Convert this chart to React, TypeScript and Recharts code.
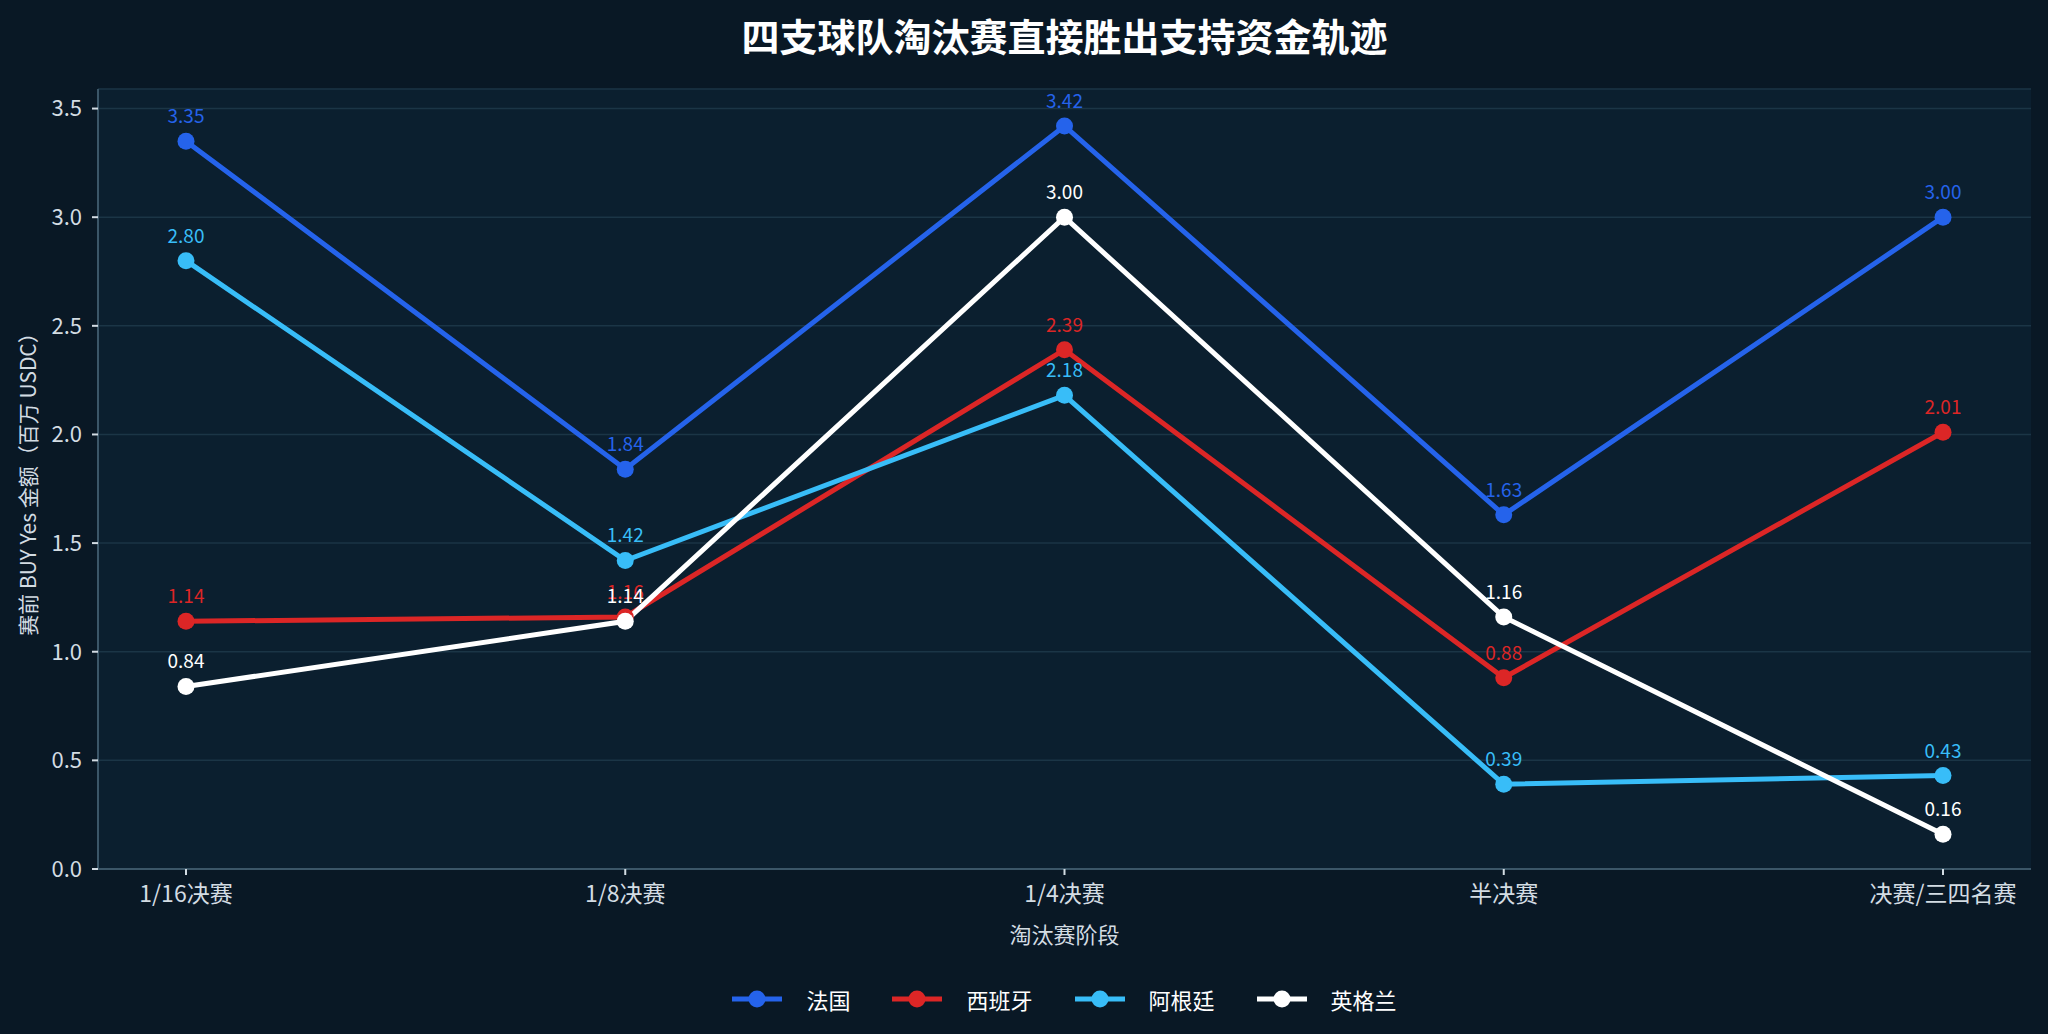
import React from "react"
import { LineChart, Line, XAxis, YAxis, CartesianGrid, Legend, LabelList } from "recharts"

const stages = ["1/16决赛", "1/8决赛", "1/4决赛", "半决赛", "决赛/三四名赛"]
const france = [3.35, 1.84, 3.42, 1.63, 3.0]
const spain = [1.14, 1.16, 2.39, 0.88, 2.01]
const argentina = [2.8, 1.42, 2.18, 0.39, 0.43]
const england = [0.84, 1.14, 3.0, 1.16, 0.16]
const yTicks = [0, 0.5, 1, 1.5, 2, 2.5, 3, 3.5]

const SERIES = [
  { key: "france", name: "法国", color: "#2563eb", values: france },
  { key: "spain", name: "西班牙", color: "#dc2626", values: spain },
  { key: "argentina", name: "阿根廷", color: "#38bdf8", values: argentina },
  { key: "england", name: "英格兰", color: "#ffffff", values: england },
]

const data = stages.map((stage, i) => {
  const row: any = { stage }
  SERIES.forEach((s) => (row[s.key] = s.values[i]))
  return row
})

const FONT = "'Noto Sans CJK SC', 'Noto Sans', sans-serif"
const BG = "#091825"
const PLOT_BG = "#0b1f2f"
const FRAME = "#3b5668"
const TEXT = "#d3dce3"
const W = 2048
const H = 1034
const DOMAIN: [number, number] = [0, 3.59]

// y 轴标题，手动旋转居中
const YLabel = ({ viewBox }: any) => {
  const cx = viewBox.x + 27
  const cy = viewBox.y + viewBox.height / 2
  return (
    <text
      x={cx}
      y={cy}
      transform={`rotate(-90 ${cx} ${cy})`}
      textAnchor="middle"
      dominantBaseline="central"
      fill={TEXT}
      fontSize={21}
      fontFamily={FONT}
    >
      赛前 BUY Yes 金额（百万 USDC）
    </text>
  )
}

const LegendContent = () => (
  <div style={{ display: "flex", justifyContent: "center", fontFamily: FONT }}>
    {SERIES.map((s, i) => (
      <div
        key={s.key}
        style={{ display: "flex", alignItems: "center", marginRight: i < SERIES.length - 1 ? 42 : 0 }}
      >
        <svg width={50} height={20}>
          <line x1={0} y1={10} x2={50} y2={10} stroke={s.color} strokeWidth={5} />
          <circle cx={25} cy={10} r={8.5} fill={s.color} />
        </svg>
        <span style={{ color: "#ffffff", fontSize: 22, marginLeft: 24 }}>{s.name}</span>
      </div>
    ))}
  </div>
)

export default function App() {
  return (
    <div style={{ position: "absolute", left: 0, top: 0, width: W, height: H, background: BG }}>
      <div
        style={{
          position: "absolute",
          left: 98,
          width: 1933,
          top: 12,
          textAlign: "center",
          color: "#ffffff",
          fontFamily: FONT,
          fontWeight: 700,
          fontSize: 38,
          lineHeight: "46px",
        }}
      >
        四支球队淘汰赛直接胜出支持资金轨迹
      </div>
      <LineChart width={W} height={H} data={data} margin={{ top: 89, right: 17, bottom: 85, left: 0 }}>
        <CartesianGrid vertical={false} stroke="#1b3546" strokeWidth={1.5} fill={PLOT_BG} />
        <XAxis
          dataKey="stage"
          type="category"
          padding={{ left: 88, right: 88 }}
          height={80}
          stroke={FRAME}
          strokeWidth={2}
          tick={{ fill: TEXT, fontSize: 23, fontFamily: FONT }}
          tickLine={{ stroke: TEXT }}
          tickSize={6}
          tickMargin={11}
          label={{ value: "淘汰赛阶段", position: "insideBottom", offset: 6, fill: TEXT, fontSize: 22, fontFamily: FONT }}
        />
        <XAxis xAxisId="top" dataKey="stage" orientation="top" height={0} tick={false} tickLine={false} stroke={FRAME} strokeWidth={2} />
        <YAxis
          type="number"
          domain={DOMAIN}
          ticks={yTicks}
          allowDataOverflow
          width={98}
          stroke={FRAME}
          strokeWidth={2}
          tickFormatter={(v: number) => v.toFixed(1)}
          tick={{ fill: TEXT, fontSize: 22, fontFamily: FONT }}
          tickLine={{ stroke: TEXT }}
          tickSize={6}
          tickMargin={10}
          label={<YLabel />}
        />
        <YAxis yAxisId="right" orientation="right" type="number" domain={DOMAIN} width={0} tick={false} tickLine={false} stroke={FRAME} strokeWidth={2} />
        <Legend
          layout="horizontal"
          verticalAlign="middle"
          align="center"
          content={<LegendContent />}
          wrapperStyle={{ top: 983, left: 98, width: 1933 }}
        />
        {SERIES.map((s) => (
          <Line
            key={s.key}
            dataKey={s.key}
            name={s.name}
            type="linear"
            stroke={s.color}
            strokeWidth={5}
            dot={{ r: 8.5, fill: s.color, stroke: s.color, strokeWidth: 0 }}
            activeDot={false}
            isAnimationActive={false}
          >
            <LabelList
              dataKey={s.key}
              position="top"
              offset={18}
              fill={s.color}
              fontSize={19}
              fontFamily={FONT}
              formatter={(v: any) => Number(v).toFixed(2)}
            />
          </Line>
        ))}
      </LineChart>
    </div>
  )
}
